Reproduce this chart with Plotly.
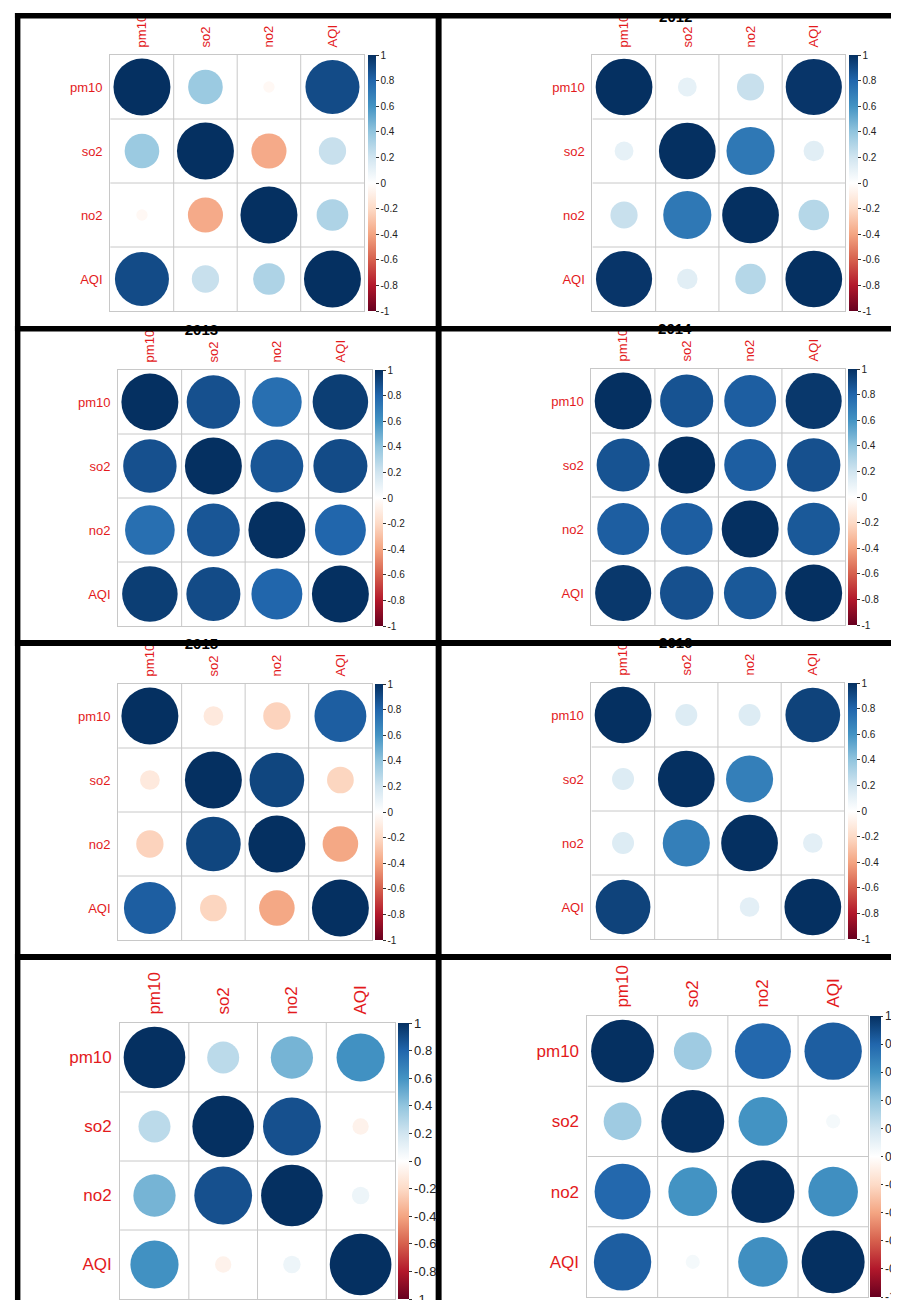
import numpy as np
import plotly.graph_objects as go

W, H = 899, 1300
FONT = "Liberation Sans, Arial, sans-serif"

variables = ["pm10", "so2", "no2", "AQI"]

corr_2011 = [[1.00, 0.37, -0.04, 0.90],
             [0.37, 1.00, -0.38, 0.23],
             [-0.04, -0.38, 1.00, 0.31],
             [0.90, 0.23, 0.31, 1.00]]
corr_2012 = [[1.00, 0.11, 0.23, 0.98],
             [0.11, 1.00, 0.72, 0.13],
             [0.23, 0.72, 1.00, 0.29],
             [0.98, 0.13, 0.29, 1.00]]
corr_2013 = [[1.00, 0.88, 0.76, 0.95],
             [0.88, 1.00, 0.86, 0.90],
             [0.76, 0.86, 1.00, 0.80],
             [0.95, 0.90, 0.80, 1.00]]
corr_2014 = [[1.00, 0.87, 0.83, 0.97],
             [0.87, 1.00, 0.83, 0.88],
             [0.83, 0.83, 1.00, 0.85],
             [0.97, 0.88, 0.85, 1.00]]
corr_2015 = [[1.00, -0.12, -0.23, 0.83],
             [-0.12, 1.00, 0.92, -0.22],
             [-0.23, 0.92, 1.00, -0.39],
             [0.83, -0.22, -0.39, 1.00]]
corr_2016 = [[1.00, 0.15, 0.15, 0.93],
             [0.15, 1.00, 0.69, 0.00],
             [0.15, 0.69, 1.00, 0.12],
             [0.93, 0.00, 0.12, 1.00]]
corr_panel7 = [[1.00, 0.27, 0.47, 0.61],
               [0.27, 1.00, 0.88, -0.07],
               [0.47, 0.88, 1.00, 0.08],
               [0.61, -0.07, 0.08, 1.00]]
corr_panel8 = [[1.00, 0.36, 0.79, 0.83],
               [0.36, 1.00, 0.60, 0.05],
               [0.79, 0.60, 1.00, 0.62],
               [0.83, 0.05, 0.62, 1.00]]

panel_titles = ["2011", "2012", "2013", "2014", "2015", "2016", None, None]
panel_data = [corr_2011, corr_2012, corr_2013, corr_2014,
              corr_2015, corr_2016, corr_panel7, corr_panel8]

cb_tickvals = [1, 0.8, 0.6, 0.4, 0.2, 0, -0.2, -0.4, -0.6, -0.8, -1]
cb_ticktext = ["1", "0.8", "0.6", "0.4", "0.2", "0", "-0.2", "-0.4", "-0.6", "-0.8", "-1"]

# corrplot RdBu palette
rdbu = ["#67001F", "#B2182B", "#D6604D", "#F4A582", "#FDDBC7", "#FFFFFF",
        "#D1E5F0", "#92C5DE", "#4393C3", "#2166AC", "#053061"]
colorscale = [[i / 10, c] for i, c in enumerate(rdbu)]

# layout geometry (pixels): grid box, colorbar box, font sizes, title anchor
geom = [
    dict(g=(103, 359, 47, 303), cb=(363, 8), lab=13, cbf=10, tl=3, t=(186, 5)),
    dict(g=(589, 844, 47, 303), cb=(848, 9), lab=13, cbf=10, tl=3, t=(673, 10)),
    dict(g=(111, 367, 362, 618), cb=(370, 8), lab=13, cbf=10, tl=3, t=(195, 323)),
    dict(g=(588, 844, 361, 617), cb=(847, 9), lab=13, cbf=10, tl=3, t=(672, 322.5)),
    dict(g=(111, 367, 676, 932), cb=(370, 8), lab=13, cbf=10, tl=3, t=(195, 637.5)),
    dict(g=(588, 843, 675, 931), cb=(847, 9), lab=13, cbf=10, tl=3, t=(673, 636.5)),
    dict(g=(113, 390, 1015, 1291), cb=(393, 11), lab=17, cbf=13, tl=3, t=None),
    dict(g=(584, 867, 1008, 1289), cb=(869, 11), lab=17, cbf=12, tl=2, t=None),
]

LABEL_RED = "#E31A1C"
GRID = "#C8C8C8"

fig = go.Figure()
shapes = []
n = len(variables)
idx = np.arange(1, n + 1)
NP = len(panel_data)
OV = NP + 1  # overlay axes index used for panel titles

for k, (corr, title, gm) in enumerate(zip(panel_data, panel_titles, geom), start=1):
    gx0, gx1, gy0, gy1 = gm["g"]
    cell_px = (gx1 - gx0) / n
    corr = np.array(corr)
    xs, ys, vals = [], [], []
    for i in range(n):
        for j in range(n):
            xs.append(idx[j])
            ys.append(idx[i])
            vals.append(corr[i, j])
    vals = np.array(vals)
    sizes = cell_px * 0.89 * np.sqrt(np.abs(vals))
    cbx, cbw = gm["cb"]
    xa = "x" if k == 1 else f"x{k}"
    ya = "y" if k == 1 else f"y{k}"
    fig.add_trace(go.Scatter(
        x=xs, y=ys, mode="markers", xaxis=xa, yaxis=ya,
        marker=dict(size=sizes, color=vals, colorscale=colorscale, cmin=-1, cmax=1,
                    line=dict(width=0), opacity=1,
                    showscale=True,
                    colorbar=dict(
                        x=cbx / W, xanchor="left", y=1 - gy0 / H, yanchor="top",
                        len=gy1 - gy0, lenmode="pixels",
                        thickness=cbw, thicknessmode="pixels",
                        xpad=0, ypad=0, outlinewidth=0,
                        tickmode="array", tickvals=cb_tickvals, ticktext=cb_ticktext,
                        ticks="outside", ticklen=gm["tl"], tickcolor="#333",
                        tickfont=dict(family=FONT, size=gm["cbf"], color="#222"),
                    )),
        hoverinfo="skip", showlegend=False, cliponaxis=False,
    ))
    if title:
        tx, ty = gm["t"]
        fig.add_trace(go.Scatter(
            x=[tx], y=[ty],
            mode="text", text=[title], textposition="middle center",
            textfont=dict(family=FONT, size=15, color="#000", weight="bold"),
            xaxis=f"x{OV}", yaxis=f"y{OV}", hoverinfo="skip", showlegend=False,
            cliponaxis=False,
        ))
    axkey = "" if k == 1 else str(k)
    fig.layout[f"xaxis{axkey}"] = dict(
        domain=[gx0 / W, gx1 / W], range=[0.5, n + 0.5], anchor=ya, side="top",
        tickmode="array", tickvals=list(idx), ticktext=variables, tickangle=-90,
        tickfont=dict(family=FONT, size=gm["lab"], color=LABEL_RED),
        ticks="", ticklabelstandoff=4, showgrid=False, zeroline=False,
        showline=True, mirror=True, linecolor=GRID, linewidth=1, fixedrange=True,
    )
    fig.layout[f"yaxis{axkey}"] = dict(
        domain=[1 - gy1 / H, 1 - gy0 / H], range=[n + 0.5, 0.5], anchor=xa,
        tickmode="array", tickvals=list(idx), ticktext=variables,
        tickfont=dict(family=FONT, size=gm["lab"], color=LABEL_RED),
        ticks="", ticklabelstandoff=4, showgrid=False, zeroline=False,
        showline=True, mirror=True, linecolor=GRID, linewidth=1, fixedrange=True,
    )
    # interior cell borders
    for b in np.arange(1.5, n, 1.0):
        shapes.append(dict(type="line", xref=xa, yref=ya, x0=b, x1=b, y0=0.5, y1=n + 0.5,
                           line=dict(color=GRID, width=1), layer="below"))
        shapes.append(dict(type="line", xref=xa, yref=ya, x0=0.5, x1=n + 0.5, y0=b, y1=b,
                           line=dict(color=GRID, width=1), layer="below"))

# full-page overlay axes (pixel units) holding the panel titles
fig.layout[f"xaxis{OV}"] = dict(domain=[0, 1], range=[0, W], anchor=f"y{OV}",
                                visible=False, fixedrange=True)
fig.layout[f"yaxis{OV}"] = dict(domain=[0, 1], range=[H, 0], anchor=f"x{OV}",
                                visible=False, fixedrange=True)


def rect(x0, x1, y0, y1, color="black"):
    return dict(type="rect", xref="paper", yref="paper", x0=x0 / W, x1=x1 / W,
                y0=1 - y1 / H, y1=1 - y0 / H, fillcolor=color, line=dict(width=0),
                layer="above")


shapes += [
    rect(0, W, 0, 5, "white"),
    rect(7, W, 5, 10.5),
    rect(7, 12.5, 5, H),
    rect(431, 437, 5, H),
    rect(7, W, 318, 323.5),
    rect(7, W, 632, 638),
    rect(7, W, 946, 952),
]

fig.update_layout(
    width=W, height=H, autosize=False,
    margin=dict(l=0, r=0, t=0, b=0, pad=0),
    paper_bgcolor="white", plot_bgcolor="rgba(0,0,0,0)",
    shapes=shapes, showlegend=False,
    font=dict(family=FONT),
)

fig.write_html("out.html")
